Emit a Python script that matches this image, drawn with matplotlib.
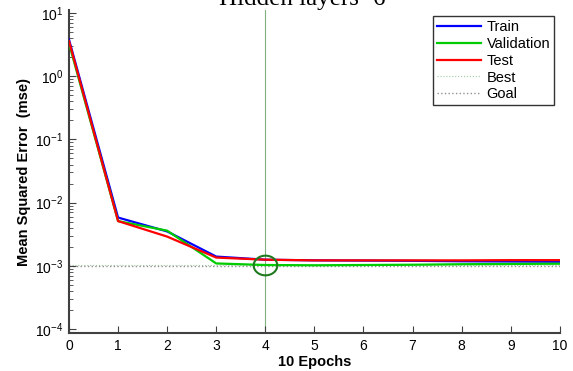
import numpy as np
import matplotlib.pyplot as plt
from matplotlib.path import Path

plt.rcParams['font.family'] = 'Liberation Sans'
plt.rcParams['axes.unicode_minus'] = False

epochs = np.arange(0, 11)
train = [3.8, 5.8e-3, 3.5e-3, 1.40e-3, 1.25e-3, 1.22e-3, 1.21e-3, 1.20e-3, 1.18e-3, 1.17e-3, 1.16e-3]
validation = [3.3, 5.1e-3, 3.6e-3, 1.09e-3, 1.03e-3, 1.02e-3, 1.03e-3, 1.04e-3, 1.06e-3, 1.07e-3, 1.08e-3]
test = [3.6, 5.1e-3, 2.9e-3, 1.35e-3, 1.25e-3, 1.22e-3, 1.22e-3, 1.22e-3, 1.22e-3, 1.23e-3, 1.23e-3]
best_epoch = 4
goal = 1e-3

fig = plt.figure(figsize=(5.73, 3.71), dpi=100)
ax = fig.add_axes([0.1204, 0.1024, 0.8566, 0.8706])

ax.plot(epochs, train, color='#0000ff', lw=1.6, label='Train', zorder=3)
ax.plot(epochs, validation, color='#00cc00', lw=1.6, label='Validation', zorder=3)
ax.plot(epochs, test, color='#ff0000', lw=1.6, label='Test', zorder=4)

best_val = validation[best_epoch]
ax.axvline(best_epoch, color='#80b080', lw=0.8, zorder=1)
ax.axhline(best_val, color='#a0cca0', lw=0.8, ls=':', label='Best', zorder=1)
ax.axhline(goal, color='#909090', lw=1.0, ls=':', label='Goal', zorder=1)

# slightly wide ellipse marking the best validation epoch
t = np.linspace(0, 2 * np.pi, 60)
ring = Path(np.c_[1.2 * np.cos(t), np.sin(t)])
ax.plot([best_epoch], [best_val], marker=ring, ms=17, mfc='none',
        mec='#1f7a1f', mew=1.5, zorder=5)

ax.set_yscale('log')
ax.set_xlim(0, 10)
ax.set_ylim(10 ** -4.063, 10 ** 1.047)
ax.set_xticks(range(0, 11))
ax.set_yticks([1e-4, 1e-3, 1e-2, 1e-1, 1e0, 1e1])
ax.tick_params(axis='both', which='both', direction='in', labelsize=10,
               color='#404040', pad=4)
ax.tick_params(which='major', length=5)
ax.tick_params(which='minor', length=3)
for s in ['top', 'right']:
    ax.spines[s].set_visible(False)
for s in ['left', 'bottom']:
    ax.spines[s].set_color('#404040')
    ax.spines[s].set_linewidth(1.5)

ax.set_xlabel('10 Epochs', fontsize=10.5, fontweight='bold', labelpad=2)
ax.set_ylabel('Mean Squared Error  (mse)', fontsize=10.5, fontweight='bold', labelpad=3)

fig.text(0.527, 0.986, 'Hidden layers=6', family='Liberation Serif', fontsize=18,
         ha='center', va='baseline')

leg = ax.legend(loc='upper right', bbox_to_anchor=(0.988, 0.981), fontsize=10.5,
                frameon=True, fancybox=False, edgecolor='black', handlelength=3.0,
                handletextpad=0.4, borderpad=0.25, labelspacing=0.2,
                borderaxespad=0)
leg.get_frame().set_linewidth(1.0)

fig.savefig('out.png', dpi=100)
